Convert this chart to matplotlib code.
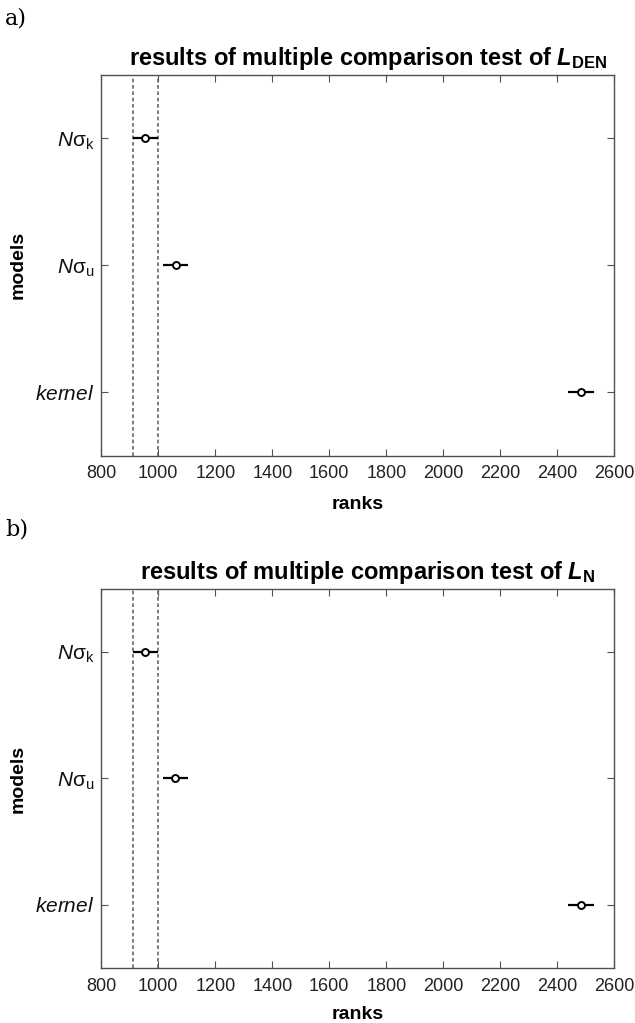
import matplotlib
matplotlib.use('Agg')
import matplotlib.pyplot as plt

plt.rcParams['font.family'] = ['Liberation Sans', 'DejaVu Sans']
plt.rcParams['mathtext.fontset'] = 'custom'
plt.rcParams['mathtext.rm'] = 'Liberation Sans'
plt.rcParams['mathtext.it'] = 'Liberation Sans:italic'
plt.rcParams['mathtext.bf'] = 'Liberation Sans:bold'
plt.rcParams['mathtext.bfit'] = 'Liberation Sans:bold:italic'

# data
models = [r'$\mathit{N}\mathrm{σ}_{\mathrm{k}}$', r'$\mathit{N}\mathrm{σ}_{\mathrm{u}}$', r'$\mathit{kernel}$']
ypos = [3, 2, 1]
mean_den = [954, 1061, 2482]
half_den = [44, 44, 46]
mean_n = [954, 1060, 2483]
half_n = [44, 43, 46]
titles = [r'results of multiple comparison test of $\mathbfit{L}_{\mathbf{DEN}}$',
          r'results of multiple comparison test of $\mathbfit{L}_{\mathbf{N}}$']
panel_labels = ['a)', 'b)']
xticks = [800, 1000, 1200, 1400, 1600, 1800, 2000, 2200, 2400, 2600]

fig = plt.figure(figsize=(6.35, 10.23), dpi=100)
ax_a = fig.add_axes([0.1595, 0.5545, 0.8079, 0.3724])
ax_b = fig.add_axes([0.1595, 0.0538, 0.8079, 0.3705])

spine_col = '#505050'

for ax, means, halfs, title, lp in [(ax_a, mean_den, half_den, titles[0], 10),
                                    (ax_b, mean_n, half_n, titles[1], 8)]:
    lo = means[0] - halfs[0]
    hi = means[0] + halfs[0]
    ax.axvline(lo, color='#666666', lw=1.2, ls=(0, (2.2, 1.6)))
    ax.axvline(hi, color='#666666', lw=1.2, ls=(0, (2.2, 1.6)))
    ax.errorbar(means, ypos, xerr=halfs, fmt='o', color='black', ecolor='black',
                elinewidth=1.6, capsize=0, markersize=5, markerfacecolor='white',
                markeredgewidth=1.4, zorder=3)
    ax.set_xlim(800, 2600)
    ax.set_ylim(0.5, 3.5)
    ax.set_xticks(xticks)
    ax.set_yticks(ypos)
    ax.set_yticklabels(models, fontsize=15)
    ax.tick_params(axis='x', labelsize=13, colors=spine_col, labelcolor='#222222', pad=7)
    ax.tick_params(axis='y', colors=spine_col, labelcolor='#111111', pad=5)
    ax.tick_params(direction='in', top=True, right=True, length=5, width=0.8)
    for s in ax.spines.values():
        s.set_color(spine_col)
        s.set_linewidth(1.0)
    ax.set_xlabel('ranks', fontsize=14, fontweight='bold', labelpad=lp)
    ax.set_ylabel('models', fontsize=14, fontweight='bold', labelpad=6)
    ax.set_title(title, fontsize=17, fontweight='bold', pad=7, x=0.52)

fig.text(0.008, 0.982, panel_labels[0], fontsize=16, family='DejaVu Serif', va='center')
fig.text(0.008, 0.482, panel_labels[1], fontsize=16, family='DejaVu Serif', va='center')

fig.savefig('out.png', dpi=100)
